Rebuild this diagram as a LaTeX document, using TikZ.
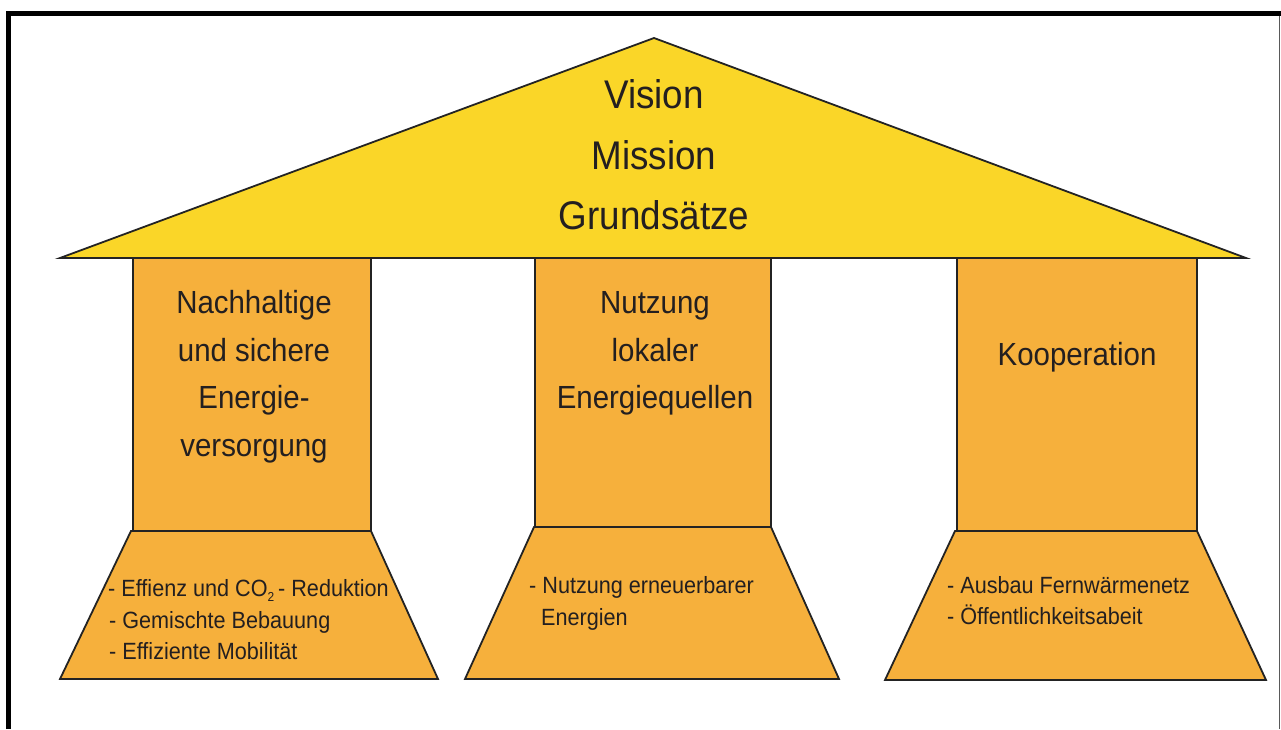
\documentclass[tikz,border=0pt]{standalone}
\usepackage{fontspec}
\setmainfont[FakeStretch=0.92]{Liberation Sans}
\definecolor{roofyellow}{RGB}{250,214,40}
\definecolor{pillarorange}{RGB}{246,176,60}
\definecolor{edgegray}{RGB}{35,35,35}
\definecolor{ink}{RGB}{35,31,32}
\newcommand{\lowtwo}{\raisebox{-0.45ex}{\fontsize{13}{13}\selectfont 2}}
\begin{document}
\begin{tikzpicture}[x=1pt,y=-1pt,
  outline/.style={draw=edgegray, line width=1.8pt, line join=miter},
  roofpart/.style={outline, fill=roofyellow},
  pillarpart/.style={outline, fill=pillarorange},
  headline/.style={font=\fontsize{40}{48}\selectfont, text=ink, anchor=base, inner sep=0pt},
  titleline/.style={font=\fontsize{32}{38}\selectfont, text=ink, anchor=base, inner sep=0pt},
  itemline/.style={font=\fontsize{23.5}{28}\selectfont, text=ink, anchor=base west, inner sep=0pt}]

% canvas and frame
\useasboundingbox (0,0) rectangle (1281,729);
\fill[white] (0,0) rectangle (1281,729);
\draw[line width=5pt, black] (8.5,729) -- (8.5,13.5) -- (1281,13.5);
\draw[line width=1.5pt, gray!70!black] (1279.5,16) -- (1279.5,729);

% roof
\filldraw[roofpart] (60,258) -- (654,38) -- (1246,258) -- cycle;

% pillar shafts
\filldraw[pillarpart] (133,258) rectangle (371,531);
\filldraw[pillarpart] (535,258) rectangle (771,527);
\filldraw[pillarpart] (957,258) rectangle (1197,531);

% pillar bases
\filldraw[pillarpart] (131,531) -- (371,531) -- (438,679) -- (60,679) -- cycle;
\filldraw[pillarpart] (534,527) -- (771,527) -- (839,679) -- (465,679) -- cycle;
\filldraw[pillarpart] (955,531) -- (1197,531) -- (1266,680) -- (885,680) -- cycle;

% roof text
\node[headline] (vision)  at (654,108) {Vision};
\node[headline] (mission) at (654,169) {Mission};
\node[headline] (grund)   at (654,229) {Grundsätze};

% pillar titles
\node[titleline] (p1a) at (254,313) {Nachhaltige};
\node[titleline] (p1b) at (254,361) {und sichere};
\node[titleline] (p1c) at (254,408) {Energie-};
\node[titleline] (p1d) at (254,456) {versorgung};

\node[titleline] (p2a) at (655,313) {Nutzung};
\node[titleline] (p2b) at (655,361) {lokaler};
\node[titleline] (p2c) at (655,408) {Energiequellen};

\node[titleline] (p3a) at (1077,365) {Kooperation};

% base items
\node[itemline] (b1a) at (108,596) {- Effienz und CO\lowtwo\,- Reduktion};
\node[itemline] (b1b) at (109,628) {- Gemischte Bebauung};
\node[itemline] (b1c) at (109,659) {- Effiziente Mobilität};

\node[itemline] (b2a) at (529,593) {- Nutzung erneuerbarer};
\node[itemline] (b2b) at (541,625) {Energien};

\node[itemline] (b3a) at (947,593) {- Ausbau Fernwärmenetz};
\node[itemline] (b3b) at (947,624) {- Öffentlichkeitsabeit};
\end{tikzpicture}
\end{document}
